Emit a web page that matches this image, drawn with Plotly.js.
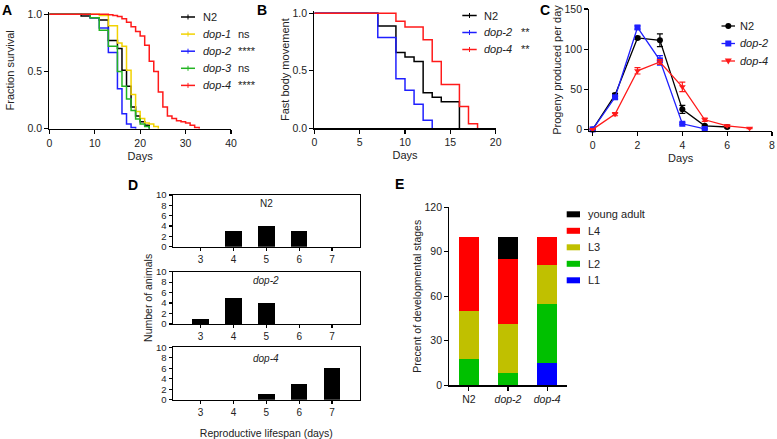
<!DOCTYPE html>
<html><head><meta charset="utf-8">
<script src="https://cdn.plot.ly/plotly-3.0.1.min.js"></script>
<style>html,body{margin:0;padding:0;background:#fff}#chart{width:777px;height:439px}</style>
</head><body><div id="chart"></div>
<script>
// ---------- Panel A: lifespan survival (step data) ----------
const aN2Days   = [0,7,9,11,13,15,16,17,18,19,20,21,22];
const aN2Surv   = [1,0.985,0.97,0.95,0.77,0.70,0.51,0.37,0.19,0.11,0.06,0.03,0];
const aDop1Days = [0,11,13,15,16,17,18,19,20,21,22,23,24];
const aDop1Surv = [1,0.99,0.90,0.75,0.72,0.51,0.30,0.15,0.09,0.05,0.04,0.02,0];
const aDop2Days = [0,9,11,13,15,16,17,18,19];
const aDop2Surv = [1,0.97,0.88,0.665,0.35,0.13,0.04,0.01,0];
const aDop3Days = [0,9,11,13,15,16,17,18,19,20,21,22];
const aDop3Surv = [1,0.97,0.86,0.72,0.50,0.37,0.26,0.16,0.085,0.04,0.02,0];
const aDop4Days = [0,13,14,15,16,17,18,19,20,21,22,23,24,25,26,27,28,29,30,31,32,33];
const aDop4Surv = [1,0.995,0.99,0.98,0.96,0.93,0.89,0.85,0.81,0.73,0.59,0.50,0.32,0.19,0.11,0.09,0.07,0.06,0.05,0.03,0.01,0];
const aNames = ['N2','<i>dop-1</i>','<i>dop-2</i>','<i>dop-3</i>','<i>dop-4</i>'];
const aSig   = ['', 'ns', '****', 'ns', '****'];

// ---------- Panel B: fast body movement ----------
const bN2Days   = [0,7,9,10,11,12,13,14,16];
const bN2Frac   = [1,0.89,0.66,0.62,0.58,0.31,0.27,0.23,0];
const bDop2Days = [0,7,9,10,11,12,13];
const bDop2Frac = [1,0.79,0.43,0.33,0.21,0.07,0];
const bDop4Days = [0,9,10,12,13,14,16,17,18];
const bDop4Frac = [1,0.93,0.88,0.77,0.58,0.38,0.19,0.04,0];
const bNames = ['N2','<i>dop-2</i>','<i>dop-4</i>'];
const bSig   = ['', '**', '**'];

// ---------- Panel C: progeny per day ----------
const cN2Days   = [0,1,2,3,4,5,6];
const cN2Mean   = [0,43,114,111,25,4.5,3];
const cN2Err    = [0,2,2,8,5,1,1];
const cDop2Days = [0,1,2,3,4,5];
const cDop2Mean = [0,40,127,86,7,0.5];
const cDop2Err  = [0,2,2,6,1,0.5];
const cDop4Days = [0,1,2,3,4,5,6,7];
const cDop4Mean = [0,19,73,84,53,12,4.5,1.5];
const cDop4Err  = [0,2,4,3,6,2,1,0.5];
const cNames = ['N2','<i>dop-2</i>','<i>dop-4</i>'];
const cTicks = [0,2,4,6,8];

// ---------- Panel D: reproductive lifespan histogram ----------
const dDays = [3,4,5,6,7];
const dN2   = [0,3,4,3,0];
const dDop2 = [1,5,4,0,0];
const dDop4 = [0,0,1,3,6];
const dTitles = ['N2','<i>dop-2</i>','<i>dop-4</i>'];

// ---------- Panel E: developmental stages ----------
const eStrains = ['N2','<i>dop-2</i>','<i>dop-4</i>'];
const eL1 = [0,0,15];
const eL2 = [18,8,40];
const eL3 = [32,33,26];
const eL4 = [50,44,19];
const eYA = [0,15,0];
const eStages = ['young adult','L4','L3','L2','L1'];

const W = 777, H = 439;
const FONT = 'Liberation Sans, Arial, Helvetica, sans-serif';
const TXT = '#222';
const fx = p => p / W;
const fy = p => 1 - p / H;
const xd = (a, b) => [fx(a), fx(b)];
const yd = (top, bottom) => [fy(bottom), fy(top)];

const COL = {black:'#000000', yellow:'#f2d200', blue:'#1f1fff', green:'#22b422', red:'#ff1a1a'};
const aColors = [COL.black, COL.yellow, COL.blue, COL.green, COL.red];
const bColors = [COL.black, COL.blue, COL.red];
const cColors = [COL.black, '#1f1fff', COL.red];
const cSymbols = ['circle','square','triangle-down'];
const eColors = {'young adult':'#000000', L4:'#ff0000', L3:'#c0c000', L2:'#00c000', L1:'#0000ff'};

function km(x, y, i, names, colors, xa, ya){
  return {type:'scatter', mode:'lines', x:x, y:y, name:names[i], xaxis:xa, yaxis:ya, showlegend:false,
    line:{shape:'hv', color:colors[i], width:1.5}, hoverinfo:'skip'};
}
function prog(x, y, e, i){
  return {type:'scatter', mode:'lines+markers', x:x, y:y, name:cNames[i], xaxis:'x3', yaxis:'y3', showlegend:false,
    line:{color:cColors[i], width:1.3}, marker:{color:cColors[i], symbol:cSymbols[i], size:6},
    error_y:{type:'data', array:e, visible:true, color:cColors[i], thickness:1.2, width:3}, cliponaxis:false};
}
function hist(y, xa, ya){
  return {type:'bar', x:dDays, y:y, xaxis:xa, yaxis:ya, width:0.5, marker:{color:'#000'}, showlegend:false};
}
function stage(y, name){
  return {type:'bar', x:eStrains, y:y, name:name, xaxis:'x7', yaxis:'y7', width:0.5,
    marker:{color:eColors[name], line:{width:0}}, showlegend:false};
}

const traces = [
  km(aN2Days, aN2Surv, 0, aNames, aColors, 'x', 'y'),
  km(aDop1Days, aDop1Surv, 1, aNames, aColors, 'x', 'y'),
  km(aDop2Days, aDop2Surv, 2, aNames, aColors, 'x', 'y'),
  km(aDop3Days, aDop3Surv, 3, aNames, aColors, 'x', 'y'),
  km(aDop4Days, aDop4Surv, 4, aNames, aColors, 'x', 'y'),
  km(bN2Days, bN2Frac, 0, bNames, bColors, 'x2', 'y2'),
  km(bDop2Days, bDop2Frac, 1, bNames, bColors, 'x2', 'y2'),
  km(bDop4Days, bDop4Frac, 2, bNames, bColors, 'x2', 'y2'),
  prog(cN2Days, cN2Mean, cN2Err, 0),
  prog(cDop2Days, cDop2Mean, cDop2Err, 1),
  prog(cDop4Days, cDop4Mean, cDop4Err, 2),
  hist(dN2, 'x4', 'y4'),
  hist(dDop2, 'x5', 'y5'),
  hist(dDop4, 'x6', 'y6'),
  stage(eL1, 'L1'),
  stage(eL2, 'L2'),
  stage(eL3, 'L3'),
  stage(eL4, 'L4'),
  stage(eYA, 'young adult')
];

function ax(extra){
  return Object.assign({showgrid:false, zeroline:false, showline:true, linecolor:'#000', linewidth:1.2,
    ticks:'outside', ticklen:4, tickwidth:1.2, tickcolor:'#000', tickfont:{size:10.5, color:TXT},
    fixedrange:true}, extra);
}
const tf = (t, s, size) => ({text:t, standoff:s, font:{size:size||11, color:TXT}});
const dX = extra => ax(Object.assign({range:[2.15,7.85], tickvals:dDays, ticklen:3, mirror:true, tickfont:{size:10,color:TXT}}, extra));
const dY = extra => ax(Object.assign({range:[0,10], dtick:2, ticklen:3, mirror:true, tickfont:{size:9.5,color:TXT}}, extra));

const layout = {
  width:W, height:H, margin:{l:0, r:0, t:0, b:0},
  paper_bgcolor:'#fff', plot_bgcolor:'rgba(0,0,0,0)',
  font:{family:FONT, size:11, color:TXT},
  barmode:'stack', showlegend:false,
  // A
  xaxis: ax({domain:xd(49.3,231), anchor:'y', range:[0,40], tickvals:[0,10,20,30,40], title:tf('Days',4)}),
  yaxis: ax({domain:yd(12,128.7), anchor:'x', range:[0,1.02], tickvals:[0,0.5,1], tickformat:'.1f', title:tf('Fraction survival',10)}),
  // B
  xaxis2: ax({domain:xd(314.3,495.7), anchor:'y2', range:[0,20], tickvals:[0,5,10,15,20], title:tf('Days',4)}),
  yaxis2: ax({domain:yd(11,128.3), anchor:'x2', range:[0,1.02], tickvals:[0,0.5,1], tickformat:'.1f', title:tf('Fast body movement',0)}),
  // C
  xaxis3: ax({domain:xd(589.3,772), anchor:'y3', range:[-0.15,8], tickvals:cTicks, ticklabeloverflow:'allow', title:tf('Days',4)}),
  yaxis3: ax({domain:yd(9,131), anchor:'x3', range:[-2,150], tickvals:[0,50,100,150], title:tf('Progeny produced per day',0)}),
  // D
  xaxis4: dX({domain:xd(172.7,360), anchor:'y4'}),
  yaxis4: dY({domain:yd(195,246.7), anchor:'x4'}),
  xaxis5: dX({domain:xd(172.7,360), anchor:'y5'}),
  yaxis5: dY({domain:yd(271.7,324), anchor:'x5', title:tf('Number of animals',1,10.5)}),
  xaxis6: dX({domain:xd(172.7,360), anchor:'y6', title:tf('Reproductive lifespan (days)',12,10.5)}),
  yaxis6: dY({domain:yd(347.3,399.7), anchor:'x6'}),
  // E
  xaxis7: ax({domain:xd(449.3,566.7), anchor:'y7', type:'category', range:[-0.5,2.5], tickfont:{size:10.5,color:TXT}}),
  yaxis7: ax({domain:yd(207.3,385.3), anchor:'x7', range:[0,120], tickvals:[0,30,60,90,120], title:tf('Precent of developmental stages',0,10.5)}),
  annotations: [],
  shapes: []
};
const A = layout.annotations, S = layout.shapes;

function text(t, xp, yp, opts){
  A.push(Object.assign({text:t, x:fx(xp), y:fy(yp), xref:'paper', yref:'paper', showarrow:false,
    xanchor:'left', yanchor:'middle', borderpad:0, font:{size:11, color:TXT}}, opts||{}));
}
function seg(x0, y0, x1, y1, color, w){
  S.push({type:'line', xref:'paper', yref:'paper', x0:fx(x0), y0:fy(y0), x1:fx(x1), y1:fy(y1),
    line:{color:color, width:w||1.5}});
}

// panel letters
[['A',7],['B',262],['C',545]].forEach(([t,xp])=>text('<b>'+t+'</b>', xp, 9.5, {xanchor:'center', font:{size:14,color:'#000'}}));
text('<b>D</b>', 133, 185, {xanchor:'center', font:{size:14,color:'#000'}});
text('<b>E</b>', 399, 184, {xanchor:'center', font:{size:14,color:'#000'}});

// legend A (line with censor tick) + significance
aNames.forEach((n,i)=>{
  const yp = 17 + 17.1*i;
  seg(181, yp, 195, yp, aColors[i], 1.5);
  seg(188, yp-2.5, 188, yp+2.5, aColors[i], 1);
  text(n, 201.5, yp);
  if (aSig[i]) text(aSig[i], 237, yp);
});
// legend B
bNames.forEach((n,i)=>{
  const yp = 15.5 + 17*i;
  seg(462.3, yp, 476.7, yp, bColors[i], 1.5);
  seg(469.5, yp-2.5, 469.5, yp+2.5, bColors[i], 1);
  text(n, 482.7, yp);
  if (bSig[i]) text(bSig[i], 520, yp);
});
// legend C (line with marker)
cNames.forEach((n,i)=>{
  const yp = 26 + 17.5*i, xc = 728.3, r = 3;
  seg(721.5, yp, 735, yp, cColors[i], 1.3);
  if (cSymbols[i]==='circle') S.push({type:'circle', xref:'paper', yref:'paper', x0:fx(xc-r), x1:fx(xc+r), y0:fy(yp+r), y1:fy(yp-r), fillcolor:cColors[i], line:{width:0}});
  else if (cSymbols[i]==='square') S.push({type:'rect', xref:'paper', yref:'paper', x0:fx(xc-r), x1:fx(xc+r), y0:fy(yp+r), y1:fy(yp-r), fillcolor:cColors[i], line:{width:0}});
  else S.push({type:'path', xref:'paper', yref:'paper', fillcolor:cColors[i], line:{width:0},
    path:`M${fx(xc-r-0.5)},${fy(yp-r+0.5)} L${fx(xc+r+0.5)},${fy(yp-r+0.5)} L${fx(xc)},${fy(yp+r+0.5)} Z`});
  text(n, 738.5, yp);
});
// legend E (swatches)
eStages.forEach((n,i)=>{
  const yp = 214.3 + 16.5*i;
  S.push({type:'rect', xref:'paper', yref:'paper', x0:fx(566.7), x1:fx(580), y0:fy(yp+3), y1:fy(yp-3), fillcolor:eColors[n], line:{width:0}});
  text(n, 587.3, yp);
});

// D subplot titles
[203, 280, 358].forEach((yp,i)=>text(dTitles[i], 266.3, yp, {xanchor:'center', font:{size:10,color:TXT}}));

Plotly.newPlot('chart', traces, layout, {staticPlot:true, displayModeBar:false});
</script></body></html>
